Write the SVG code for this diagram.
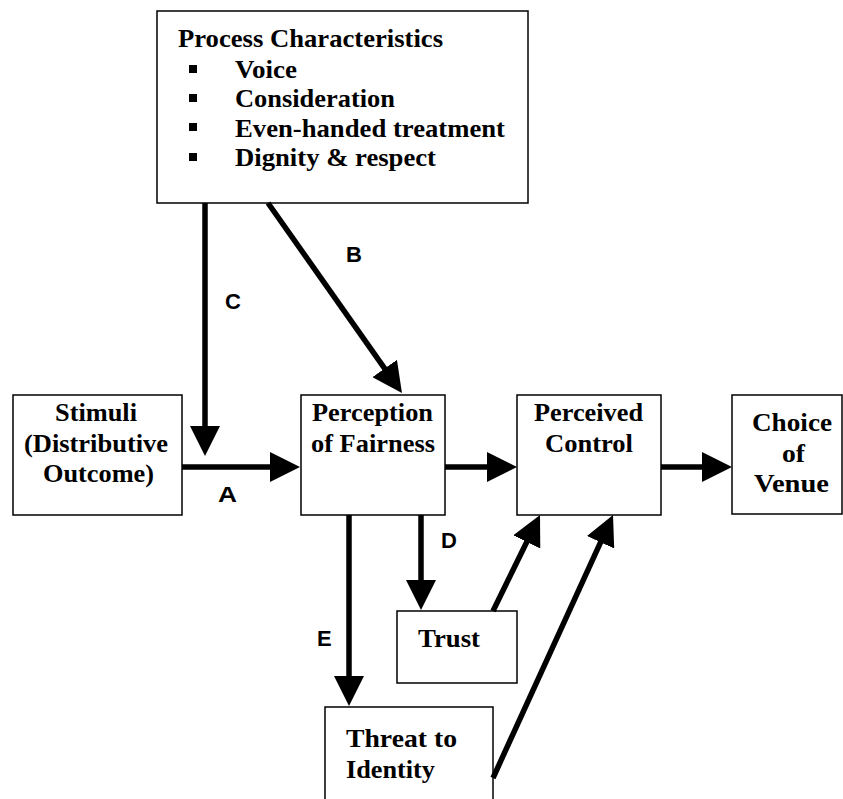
<svg xmlns="http://www.w3.org/2000/svg" width="843" height="799" viewBox="0 0 843 799">
<defs>
<style>
.box{fill:#fff;stroke:#000;stroke-width:1.5}
.nt{font-family:"Liberation Serif","Times New Roman",serif;font-weight:bold;font-size:24.5px;fill:#000}
.lb{font-family:"Liberation Sans",Arial,sans-serif;font-weight:bold;font-size:22px;fill:#000}
.cn{stroke:#000;stroke-width:5.5;fill:none;marker-end:url(#ah)}
</style>
<marker id="ah" markerUnits="userSpaceOnUse" markerWidth="30" markerHeight="30" refX="20" refY="15" orient="auto" viewBox="0 0 30 30">
<path d="M0,0 L30,15 L0,30 z" fill="#000"/>
</marker>
</defs>
<rect width="843" height="799" fill="#fff"/>
<g id="process">
<rect class="box" x="157" y="11" width="371" height="192"/>
<text class="nt" x="178" y="47" textLength="265" lengthAdjust="spacingAndGlyphs">Process Characteristics</text>
<rect x="189" y="65" width="8" height="8"/>
<rect x="189" y="94" width="8" height="8"/>
<rect x="189" y="123" width="8" height="8"/>
<rect x="189" y="153" width="8" height="8"/>
<text class="nt" x="235" y="78" textLength="62" lengthAdjust="spacingAndGlyphs">Voice</text>
<text class="nt" x="235" y="107" textLength="160" lengthAdjust="spacingAndGlyphs">Consideration</text>
<text class="nt" x="235" y="137" textLength="270" lengthAdjust="spacingAndGlyphs">Even-handed treatment</text>
<text class="nt" x="235" y="166" textLength="201" lengthAdjust="spacingAndGlyphs">Dignity &amp; respect</text>
</g>
<g id="stimuli">
<rect class="box" x="13" y="395" width="169" height="120"/>
<text class="nt" x="55" y="421" textLength="82" lengthAdjust="spacingAndGlyphs">Stimuli</text>
<text class="nt" x="24" y="452" textLength="144" lengthAdjust="spacingAndGlyphs">(Distributive</text>
<text class="nt" x="43" y="482" textLength="111" lengthAdjust="spacingAndGlyphs">Outcome)</text>
</g>
<g id="perception">
<rect class="box" x="301" y="395" width="144" height="120"/>
<text class="nt" x="312" y="421" textLength="121" lengthAdjust="spacingAndGlyphs">Perception</text>
<text class="nt" x="311" y="452" textLength="124" lengthAdjust="spacingAndGlyphs">of Fairness</text>
</g>
<g id="perceived">
<rect class="box" x="517" y="395" width="144" height="120"/>
<text class="nt" x="534" y="421" textLength="109" lengthAdjust="spacingAndGlyphs">Perceived</text>
<text class="nt" x="545" y="452" textLength="88" lengthAdjust="spacingAndGlyphs">Control</text>
</g>
<g id="choice">
<rect class="box" x="732" y="395" width="110" height="119"/>
<text class="nt" x="752" y="431" textLength="80" lengthAdjust="spacingAndGlyphs">Choice</text>
<text class="nt" x="782" y="462" textLength="23" lengthAdjust="spacingAndGlyphs">of</text>
<text class="nt" x="754" y="492" textLength="75" lengthAdjust="spacingAndGlyphs">Venue</text>
</g>
<g id="trust">
<rect class="box" x="397" y="611" width="120" height="72"/>
<text class="nt" x="418" y="647" textLength="62" lengthAdjust="spacingAndGlyphs">Trust</text>
</g>
<g id="threat">
<rect class="box" x="325" y="707" width="168" height="100"/>
<text class="nt" x="346" y="747" textLength="111" lengthAdjust="spacingAndGlyphs">Threat to</text>
<text class="nt" x="346" y="778" textLength="89" lengthAdjust="spacingAndGlyphs">Identity</text>
</g>
<g id="connectors">
<line class="cn" x1="182" y1="467" x2="290" y2="467"/>
<line class="cn" x1="205" y1="203" x2="205" y2="446"/>
<line class="cn" x1="268" y1="203" x2="396.2" y2="384.8"/>
<line class="cn" x1="445" y1="467" x2="507" y2="467"/>
<line class="cn" x1="661" y1="467" x2="722" y2="467"/>
<line class="cn" x1="421" y1="515" x2="421" y2="600"/>
<line class="cn" x1="349" y1="515" x2="349" y2="696"/>
<line class="cn" x1="493" y1="611" x2="535.6" y2="524"/>
<line class="cn" x1="493" y1="778" x2="608.85" y2="524.1"/>
<text class="lb" x="218" y="502" textLength="19" lengthAdjust="spacingAndGlyphs">A</text>
<text class="lb" x="346" y="262">B</text>
<text class="lb" x="225" y="309">C</text>
<text class="lb" x="441" y="548">D</text>
<text class="lb" x="317" y="646">E</text>
</g>
</svg>
